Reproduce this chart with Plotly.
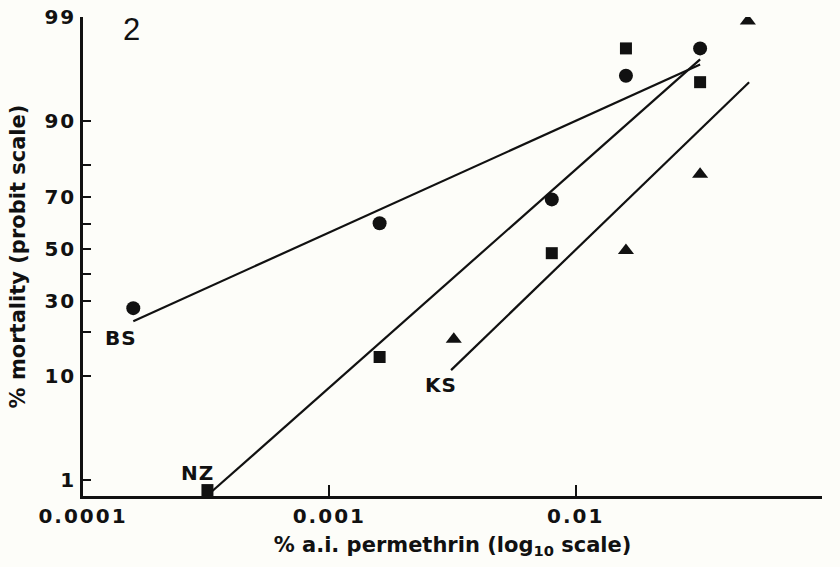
from statistics import NormalDist
import math
import plotly.graph_objects as go

# Dose (% a.i. permethrin) and observed % mortality for each strain
bs_dose = [0.00016, 0.0016, 0.008, 0.016, 0.032]
bs_mort = [27.5, 60.1, 69.0, 95.9, 97.8]

nz_dose = [0.00032, 0.0016, 0.008, 0.016, 0.032]
nz_mort = [0.76, 13.8, 48.2, 97.8, 95.3]

ks_dose = [0.0032, 0.016, 0.032, 0.05]
ks_mort = [18.1, 49.3, 77.3, 98.9]

# Fitted probit lines (end points: dose, % mortality)
bs_fit_dose = [0.00016, 0.032]
bs_fit_mort = [23.3, 96.8]
nz_fit_dose = [0.000328, 0.032]
nz_fit_mort = [0.70, 97.15]
ks_fit_dose = [0.00312, 0.0506]
ks_fit_mort = [11.1, 95.3]

# Axis ticks
x_ticks = [0.0001, 0.001, 0.01, 0.1]
x_tick_text = ["0.0001", "0.001", "0.01", "0.1"]
y_ticks = [1, 10, 30, 50, 70, 90, 99]
y_tick_text = ["1", "10", "30", "50", "70", "90", "99"]
y_minor_ticks = [20, 40, 60, 80]

# Strain labels: (text, dose, % mortality)
strain_labels = [("BS", 0.000143, 18.5), ("NZ", 0.000292, 1.2), ("KS", 0.00285, 8.6)]

_nd = NormalDist()


def probit(p):
    """Percent mortality -> normal deviate."""
    return _nd.inv_cdf(p / 100.0)


INK = "#111111"
FONT = "DejaVu Sans"


def spaced(text, px):
    return f'<span style="letter-spacing:{px}px">{text}</span>'


fig = go.Figure()

for dose, mort in [(bs_fit_dose, bs_fit_mort), (nz_fit_dose, nz_fit_mort), (ks_fit_dose, ks_fit_mort)]:
    fig.add_trace(go.Scatter(
        x=dose, y=[probit(m) for m in mort], mode="lines",
        line=dict(color=INK, width=2.2), showlegend=False, hoverinfo="skip"))

fig.add_trace(go.Scatter(
    x=bs_dose, y=[probit(m) for m in bs_mort], mode="markers", name="BS",
    marker=dict(symbol="circle", size=14, color=INK), showlegend=False))
fig.add_trace(go.Scatter(
    x=nz_dose, y=[probit(m) for m in nz_mort], mode="markers", name="NZ",
    marker=dict(symbol="square", size=12, color=INK), showlegend=False))
fig.add_trace(go.Scatter(
    x=ks_dose, y=[probit(m) for m in ks_mort], mode="markers", name="KS",
    marker=dict(symbol="triangle-up", size=14, color=INK), showlegend=False))

for text, dose, mort in strain_labels:
    fig.add_annotation(
        x=math.log10(dose), y=probit(mort), xref="x", yref="y",
        xanchor="center", yanchor="middle",
        text=spaced(text, 1), showarrow=False,
        font=dict(family=FONT, size=20, color=INK, weight="bold"))

# Panel number
fig.add_annotation(
    x=(131 - 83) / 739, y=1 - (29 - 17) / 479, xref="x domain", yref="y domain",
    xanchor="center", yanchor="middle",
    text="2", showarrow=False,
    font=dict(family="Liberation Sans", size=31, color=INK))

fig.update_xaxes(
    type="log", range=[-4, -1], automargin=False,
    tickmode="array", tickvals=x_ticks, ticktext=[spaced(t, 2) for t in x_tick_text],
    ticks="inside", ticklen=11, tickwidth=2, tickcolor=INK,
    showline=True, linewidth=2.5, linecolor=INK,
    showgrid=False, zeroline=False,
    tickfont=dict(family=FONT, size=20, color=INK, weight="bold"),
    title=dict(text="% a.i. permethrin (log<sub>10</sub> scale)",
               font=dict(family=FONT, size=21, color=INK, weight="bold"), standoff=11),
)
fig.update_yaxes(
    range=[-2.487, 2.33], automargin=False,
    tickmode="array", tickvals=[probit(v) for v in y_ticks],
    ticktext=[spaced(t, 2) for t in y_tick_text],
    ticks="inside", ticklen=8, tickwidth=2, tickcolor=INK,
    minor=dict(tickmode="array", tickvals=[probit(v) for v in y_minor_ticks],
               ticks="inside", ticklen=8, tickwidth=2, tickcolor=INK, showgrid=False),
    showline=True, linewidth=2.5, linecolor=INK,
    showgrid=False, zeroline=False,
    tickfont=dict(family=FONT, size=20, color=INK, weight="bold"),
    title=dict(text="% mortality (probit scale)",
               font=dict(family=FONT, size=21, color=INK, weight="bold"), standoff=14),
)

fig.update_layout(
    width=840, height=567,
    margin=dict(l=83, r=18, t=17, b=71),
    paper_bgcolor="#fdfdf9", plot_bgcolor="#fdfdf9",
    showlegend=False,
)

fig.write_html("out.html")
